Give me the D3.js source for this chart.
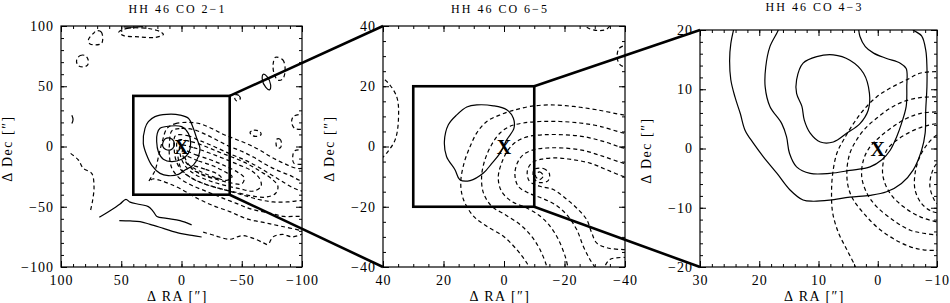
<!DOCTYPE html>
<html>
<head>
<meta charset="utf-8">
<script src="https://d3js.org/d3.v7.min.js"></script>
<style>
  body { margin: 0; background: #fff; }
  svg text { font-family: "Liberation Serif", "DejaVu Serif", serif; fill: #000; }
  .ct { fill: none; stroke: #000; stroke-width: 1.2; }
  .dash { stroke-dasharray: 4,3; }
</style>
</head>
<body>
<svg width="950" height="303"></svg>
<script>
// ---- panel setup ----
var titles = ["HH 46 CO 2\u22121", "HH 46 CO 6\u22125", "HH 46 CO 4\u22123"];
var raDomains = [[100, -100], [40, -40], [30, -10]];
var decDomains = [[-100, 100], [-40, 40], [-20, 20]];
var majorTicks = [[-100, -50, 0, 50, 100], [-40, -20, 0, 20, 40], [-20, -10, 0, 10, 20]];
var raTicks = [[100, 50, 0, -50, -100], [40, 20, 0, -20, -40], [30, 20, 10, 0, -10]];
var minorSteps = [10, 5, 2];

// zoom boxes (RA range, Dec range)
var box1RA = [40, -40], box1Dec = [-40, 42];
var box2RA = [30, -10], box2Dec = [-20, 20];

// ---- contours, [RA, Dec] pairs ----
// CO 2-1
var p1SolidClosed = [
  [[30.3,15.1],[31.7,2.6],[28.9,-7.1],[24.8,-15.4],[17.8,-22.3],[10.9,-24.2],[2.6,-23.1],[-2.9,-19.5],[-9.8,-15.4],[-14,-8.4],[-15.3,-1.5],[-12.6,6.8],[-9.8,15.1],[-5.7,23.4],[1.2,26.1],[12.3,26.7],[22,24.8],[27.5,20.6]],
  [[17.8,15.1],[9.5,17],[-0.1,16.5],[-5.7,10.9],[-7.6,2.6],[-5.7,-5.7],[-0.1,-10.6],[8.2,-12.6],[15.1,-10.6],[19.2,-4.3],[20.6,4],[20.1,10.9]],
  [[15.5,3],[13.5,6.5],[9.5,7],[6.5,4.5],[6.3,0],[9,-2.8],[13,-2.5],[15.5,0]],
  [[-68,60],[-67,56],[-70,49],[-73,47],[-74,51],[-71,58]]
];
var p1SolidOpen = [
  [[68.2,-58.8],[59.3,-53.3],[51,-47.7],[46.1,-43.8],[42.7,-46.2],[34.4,-48.1],[27.5,-49.9],[23.4,-54],[20.4,-58],[12.3,-59.6],[1.2,-61.5],[-8.4,-65]],
  [[51.6,-61.5],[42.7,-61.8],[34.4,-62.4],[26.1,-64.6],[15.1,-67.9],[1.2,-72.1],[-9.8,-74],[-16.7,-75.1]],
  [[91,26],[90,22.5],[91,19]],
  [[48,99.3],[40,99],[32,99.4]]
];
var p1DashClosed = [
  [[12,15],[5,19],[-5,20],[-15,19],[-25,15],[-35,10],[-45,6],[-55,2],[-65,-3],[-75,-9],[-85,-14],[-95,-18],[-110,-20],[-110,-73],[-100,-70],[-82,-66],[-68,-63],[-54,-60],[-40,-54],[-26,-49],[-13,-43],[1,-35],[10,-31],[18,-28],[24,-27],[27,-29],[22,-20],[19,-8],[16,4]],
  [[8,13],[0,15],[-10,14],[-20,10],[-30,5],[-40,0],[-50,-4],[-60,-9],[-70,-15],[-80,-20],[-90,-24],[-98,-28],[-110,-31],[-110,-60],[-98,-58],[-85,-58],[-72,-55],[-58,-52],[-45,-47],[-32,-42],[-20,-37],[-8,-32],[2,-26],[8,-18],[10,-8],[10,2]],
  [[5,9],[-5,9],[-15,5],[-27,0],[-40,-6],[-52,-11],[-62,-16],[-72,-22],[-82,-28],[-92,-34],[-100,-37],[-110,-39],[-110,-47],[-100,-45],[-88,-46],[-76,-46],[-64,-44],[-50,-40],[-36,-36],[-22,-32],[-10,-27],[-1,-21],[4,-13],[6,-3]],
  [[3,5],[-8,4],[-20,0],[-32,-5],[-45,-10],[-56,-15],[-66,-21],[-75,-27],[-80,-33],[-78,-39],[-70,-42],[-58,-41],[-45,-38],[-32,-35],[-19,-31],[-8,-26],[0,-19],[3,-8]],
  [[1,1],[-10,-1],[-22,-5],[-35,-10],[-47,-15],[-58,-20],[-65,-27],[-66,-33],[-60,-37],[-48,-35],[-35,-32],[-22,-28],[-11,-23],[-3,-16],[1,-7]],
  [[-1,-3],[-12,-7],[-24,-11],[-36,-16],[-46,-21],[-52,-26],[-50,-31],[-40,-30],[-28,-27],[-16,-23],[-7,-17],[-2,-10]],
  [[-3,-8],[-14,-12],[-26,-16],[-36,-21],[-42,-25],[-38,-28],[-26,-25],[-14,-20],[-6,-15]],
  [[-8,-16],[-20,-19],[-30,-23],[-33,-26],[-26,-26],[-15,-22],[-9,-19]],
  [[-57,12],[-60,13.5],[-65,12.5],[-66,10],[-63,8.5],[-58,9.5]],
  [[-79,6],[-81.5,6.2],[-83,3],[-82,-1],[-79.5,-1],[-78.5,2]],
  [[-45,43],[-48,42],[-48.5,39],[-45.5,38],[-44,41]],
  [[-78,74],[-84,72],[-86,64],[-84,56],[-80,55],[-77,60],[-76,68]],
  [[70.4,96.1],[66.5,95],[66.3,85.6],[75.9,85.1],[77.3,88.4],[73,94]],
  [[87,72],[84,75.5],[80,75.5],[77.5,72],[78,67.5],[82,66],[86,67.5]],
  [[52,95],[45,98],[35,98.5],[25,97.5],[17,95],[15,93],[22,90.5],[35,91],[48,92]]
];
var p1DashOpen = [
  [[-103,27],[-93,25],[-91.4,20],[-94,15],[-103,14.5]],
  [[-103,-3],[-94,-3.5],[-92.3,-8.5],[-93.4,-14],[-103,-14.5]],
  [[-18,-71],[-28,-74],[-40,-77],[-50,-74],[-59,-76],[-68,-80],[-72,-82]],
  [[-73,-80],[-76,-75],[-84,-73],[-92,-75],[-102,-72]],
  [[92,-5.7],[85.6,-11.2],[81.5,-18.1],[74.5,-22.3],[72.6,-33.3],[73.7,-44.4],[75.4,-52.7]]
];

// CO 6-5
var p2SolidClosed = [
  [[9,13.8],[3.5,13.5],[-0.9,12.2],[-3.1,9.4],[-3.3,6.1],[-0.9,2.2],[1.3,-2.2],[4.1,-5.7],[6.8,-8.8],[11.2,-11.3],[14.6,-11],[16.2,-7.7],[19,-3.3],[19.7,1.7],[18.4,7.2],[15.6,10.5],[12.3,13.1]]
];
var p2DashOpen = [
  [[-42,10.3],[-39.4,10.5],[-30.6,12.2],[-22.9,13.3],[-15.2,13.8],[-8.6,13.3],[-3.1,12],[1.3,10.5],[5.7,8.3],[9,4.5],[11.2,0],[13.2,-5.5],[14.3,-12.1],[13.4,-17.6],[10.1,-23.1],[5.7,-26.5],[0.2,-29.8],[-4.2,-34.2],[-7.5,-38.6],[-9.5,-42]],
  [[-42,4.2],[-39.4,4.5],[-31.7,6.7],[-25.1,7.8],[-18.5,8.3],[-11.9,8.3],[-6.4,7.8],[-2,6.7],[1.3,4.5],[4.1,0.6],[6.3,-4.4],[7.4,-9.9],[6.8,-15.4],[4.1,-19.8],[-0.3,-22.6],[-5.3,-25.9],[-9.1,-29.8],[-11.9,-34.2],[-14.1,-39.7],[-14.6,-42]],
  [[-42,-1],[-39.4,-0.5],[-32.8,1.7],[-26.2,3.3],[-19.6,3.9],[-13,3.9],[-8,3.3],[-4.2,1.7],[-1.4,-1.1],[0.8,-5.5],[1.9,-10.4],[0.8,-14.9],[-2.5,-18.2],[-7.5,-20.4],[-11.9,-23.1],[-15.2,-26.4],[-18,-30.9],[-20.2,-36.4],[-21.3,-40.8],[-21.6,-42]],
  [[-42,-6],[-39.4,-5.5],[-32.8,-3.3],[-26.2,-1.3],[-19.6,-0.5],[-14.1,-0.5],[-9.7,-1.1],[-6.4,-2.7],[-4.4,-5.5],[-3.6,-9.3],[-4.7,-13.2],[-8,-15.4],[-12.4,-17.1],[-16.9,-19.3],[-20.7,-22.6],[-24,-27.5],[-26.2,-33.1],[-28.4,-37.5],[-30.6,-40.8],[-31.5,-42]],
  [[-42,-10.5],[-39.4,-9.9],[-33.9,-7.7],[-28.4,-5.5],[-22.9,-4.4],[-17.4,-3.8],[-12.4,-4.2],[-9.1,-5.5],[-7.7,-8.2],[-8.4,-11.5],[-11.9,-13.2],[-16.3,-14.3],[-20.2,-17.1],[-24,-20.4],[-27.3,-24.2],[-29,-28.7],[-30.6,-32],[-34,-33.6],[-39.4,-34.2],[-42,-34]],
  [[41.5,23],[39.3,22.1],[35.5,16.6],[34.9,8.9],[36,2.2],[38.8,-2.2],[41.5,-5]],
  [[-26,41.5],[-27.5,39.5],[-31,38.5],[-34,39],[-36,41.5]],
  [[-41.5,34],[-38,32.5],[-37.5,29],[-38.5,27],[-41.5,26]],
  [[-32.6,-41.5],[-35,-37.5],[-41.5,-36.9]]
];
var p2DashClosed = [
  [[-10,-7.6],[-13,-7.3],[-15,-9],[-14.6,-11.3],[-12,-12],[-10.2,-11],[-9.6,-9.3]],
  [[-10.4,-9.7],[-11.7,-8.4],[-13,-9.7],[-11.7,-11]]
];

// CO 4-3
var p3SolidOpen = [
  [[24.1,21],[24.8,17.7],[25,14.9],[24.8,11.6],[24.1,8.7],[23.2,5.9],[22.4,3.1],[21,0.9],[19.3,-1.4],[17,-4.2],[14.8,-7],[12.6,-8.7],[10.9,-8.9],[8.1,-8.7],[4.7,-8.2],[1.3,-7.9],[-1.5,-7.3],[-4,-5.9],[-6,-3.6],[-7.4,-0.3],[-8,2.6],[-8.1,6.5],[-8.3,10.4],[-8.3,13.8],[-8.1,16.6],[-7.4,19],[-6,20],[-5,21]],
  [[16.6,21],[16.8,20],[18.2,17.2],[18.9,13.8],[19,10.4],[18.2,7.1],[16.2,4.2],[15.4,2],[14.9,-0.8],[13.7,-3.1],[11.4,-4.2],[8.1,-4.2],[4.7,-3.7],[1.3,-3.1],[-0.7,-1.9],[-2.1,-0.3],[-3.2,2],[-4,4.2],[-4.8,7.1],[-4.9,10.4],[-4.8,13.5],[-3.8,14.4],[-1.5,15.2],[0.7,16.1],[2.1,17.2],[3,18.9],[3.3,21]]
];
var p3SolidClosed = [
  [[13.7,11.6],[12.6,14.4],[10.3,15.5],[7.5,15.8],[4.7,14.9],[2.4,12.7],[1.4,9.3],[1.6,6.5],[3,4.2],[5.2,2.6],[7.5,1.1],[9.7,1.1],[11.4,2.6],[12.4,4.8],[12.8,7.1],[13.7,9.3]]
];
var p3DashOpen = [
  [[-11,13.1],[-10,13],[-7.1,12.7],[-4.9,11.6],[-2.1,10.2],[0.2,8.7],[2.4,6.5],[4.1,4.2],[5.8,1.4],[6.9,-0.8],[7.6,-4.2],[7.8,-7.6],[7.6,-10.9],[6.6,-14.3],[5.2,-17.1],[3.8,-19.9],[3.4,-21]],
  [[-11,8.7],[-10,8.7],[-7.1,8.6],[-4.3,7.9],[-2.1,6.8],[0.2,5.1],[2.1,3.4],[3.6,1.4],[4.7,-0.8],[5.2,-3.6],[5,-6.4],[4.1,-8.7],[2.4,-10.9],[0.2,-13.2],[-2.6,-15.2],[-5.5,-16.6],[-7.7,-17.1],[-10,-17.2],[-11,-17.2]],
  [[-11,6.2],[-10,6.2],[-7.1,5.9],[-4.9,5.1],[-2.6,3.7],[-0.4,2],[1.3,0.3],[2.4,-1.9],[2.7,-4.8],[1.8,-7.6],[0.2,-9.8],[-2.6,-12.1],[-5.5,-13.8],[-7.7,-14.3],[-10,-14.6],[-11,-14.6]],
  [[-11,4.2],[-10,4.2],[-7.7,3.7],[-5.5,2.8],[-3.2,1.4],[-1.5,-0.3],[-0.9,-2.5],[-0.9,-4.8],[-2.1,-7.6],[-4.3,-9.8],[-7.1,-11.5],[-10,-12.4],[-11,-12.5]],
  [[-11,2.8],[-10,2.3],[-8.5,0.9],[-7.1,-1.4],[-6.3,-4.2],[-6.3,-7],[-7.4,-9.3],[-9.1,-10.6],[-11,-11]],
  [[-11,-2.2],[-10,-2.5],[-9.1,-4.2],[-8.8,-6.4],[-9.4,-8.4],[-10,-9.3],[-11,-9.6]]
];

var panels = [
  {solidClosed: p1SolidClosed, solidOpen: p1SolidOpen, dashClosed: p1DashClosed, dashOpen: p1DashOpen},
  {solidClosed: p2SolidClosed, solidOpen: [], dashClosed: p2DashClosed, dashOpen: p2DashOpen},
  {solidClosed: p3SolidClosed, solidOpen: p3SolidOpen, dashClosed: [], dashOpen: p3DashOpen}
];

// ---- layout ----
var frames = [
  {x: 61, y: 26, w: 241, h: 241},
  {x: 383, y: 26, w: 242, h: 241},
  {x: 700, y: 30, w: 237, h: 237}
];
var titleY = [13, 13, 11];
var fontStack = '"Liberation Serif", "DejaVu Serif", serif';
var fmt = function(d) { return d < 0 ? "\u2212" + Math.abs(d) : String(d); };

var svg = d3.select("svg");
var scales = [];

frames.forEach(function(f, i) {
  var x = d3.scaleLinear().domain(raDomains[i]).range([f.x, f.x + f.w]);
  var y = d3.scaleLinear().domain(decDomains[i]).range([f.y + f.h, f.y]);
  scales.push({x: x, y: y});

  var lo = decDomains[i][0], hi = decDomains[i][1];
  var minor = d3.range(lo, hi + 0.001, minorSteps[i]);
  var rlo = raDomains[i][1], rhi = raDomains[i][0];
  var minorX = d3.range(rlo, rhi + 0.001, minorSteps[i]);

  svg.append("clipPath").attr("id", "clip" + i)
    .append("rect").attr("x", f.x).attr("y", f.y).attr("width", f.w).attr("height", f.h);

  var g = svg.append("g");

  // contours
  var cg = g.append("g").attr("clip-path", "url(#clip" + i + ")");
  var lineOpen = d3.line().x(function(d) { return x(d[0]); }).y(function(d) { return y(d[1]); })
      .curve(d3.curveCatmullRom.alpha(0.5));
  var lineClosed = d3.line().x(function(d) { return x(d[0]); }).y(function(d) { return y(d[1]); })
      .curve(d3.curveCatmullRomClosed.alpha(0.5));
  var p = panels[i];
  cg.selectAll(".sc").data(p.solidClosed).enter().append("path")
    .attr("class", "ct").attr("d", lineClosed);
  cg.selectAll(".so").data(p.solidOpen).enter().append("path")
    .attr("class", "ct").attr("d", lineOpen);
  cg.selectAll(".dc").data(p.dashClosed).enter().append("path")
    .attr("class", "ct dash").attr("d", lineClosed);
  cg.selectAll(".do").data(p.dashOpen).enter().append("path")
    .attr("class", "ct dash").attr("d", lineOpen);

  // ticks (inside, all four sides)
  function styleAxis(a) {
    a.select(".domain").remove();
    a.selectAll("line").attr("stroke", "#000").attr("stroke-width", 1);
    a.attr("font-family", fontStack).attr("font-size", 14);
    a.selectAll("text").style("letter-spacing", "1px");
  }
  g.append("g").attr("transform", "translate(0," + (f.y + f.h) + ")")
    .call(d3.axisBottom(x).tickValues(raTicks[i]).tickFormat(fmt).tickSize(-6).tickPadding(8))
    .call(styleAxis);
  g.append("g").attr("transform", "translate(0," + (f.y + f.h) + ")")
    .call(d3.axisBottom(x).tickValues(minorX).tickFormat("").tickSize(-3)).call(styleAxis);
  g.append("g").attr("transform", "translate(0," + f.y + ")")
    .call(d3.axisTop(x).tickValues(raTicks[i]).tickFormat("").tickSize(-6)).call(styleAxis);
  g.append("g").attr("transform", "translate(0," + f.y + ")")
    .call(d3.axisTop(x).tickValues(minorX).tickFormat("").tickSize(-3)).call(styleAxis);
  g.append("g").attr("transform", "translate(" + f.x + ",0)")
    .call(d3.axisLeft(y).tickValues(majorTicks[i]).tickFormat(fmt).tickSize(-6).tickPadding(7))
    .call(styleAxis);
  g.append("g").attr("transform", "translate(" + f.x + ",0)")
    .call(d3.axisLeft(y).tickValues(minor).tickFormat("").tickSize(-3)).call(styleAxis);
  g.append("g").attr("transform", "translate(" + (f.x + f.w) + ",0)")
    .call(d3.axisRight(y).tickValues(majorTicks[i]).tickFormat("").tickSize(-6)).call(styleAxis);
  g.append("g").attr("transform", "translate(" + (f.x + f.w) + ",0)")
    .call(d3.axisRight(y).tickValues(minor).tickFormat("").tickSize(-3)).call(styleAxis);

  // frame
  g.append("rect").attr("x", f.x).attr("y", f.y).attr("width", f.w).attr("height", f.h)
    .attr("fill", "none").attr("stroke", "#000").attr("stroke-width", 1.2);

  // source marker
  g.append("text").attr("x", x(0)).attr("y", y(0)).attr("dy", "0.35em")
    .attr("text-anchor", "middle").attr("font-size", 20).attr("font-weight", "bold")
    .text("X");

  // title and axis labels
  var cx = f.x + f.w / 2 - 4;
  svg.append("text").attr("x", cx).attr("y", titleY[i]).attr("text-anchor", "middle")
    .attr("font-size", 12).style("letter-spacing", "2px").text(titles[i]);
  svg.append("text").attr("x", cx).attr("y", 301).attr("text-anchor", "middle")
    .attr("font-size", 14).style("letter-spacing", "1.5px").text("\u0394 RA [\u2033]");
  svg.append("text").attr("transform", "translate(" + (f.x - 49) + "," + (f.y + f.h / 2 + 2) + ") rotate(-90)")
    .attr("text-anchor", "middle").attr("font-size", 14).style("letter-spacing", "1.5px")
    .text("\u0394 Dec [\u2033]");
});

// zoom boxes and connectors
function drawZoom(s, bRA, bDec, target) {
  var x0 = s.x(bRA[0]), x1 = s.x(bRA[1]), yT = s.y(bDec[1]), yB = s.y(bDec[0]);
  svg.append("rect").attr("x", x0).attr("y", yT).attr("width", x1 - x0).attr("height", yB - yT)
    .attr("fill", "none").attr("stroke", "#000").attr("stroke-width", 2.6);
  svg.append("line").attr("x1", x1).attr("y1", yT).attr("x2", target.x).attr("y2", target.y)
    .attr("stroke", "#000").attr("stroke-width", 2.6);
  svg.append("line").attr("x1", x1).attr("y1", yB).attr("x2", target.x).attr("y2", target.y + target.h)
    .attr("stroke", "#000").attr("stroke-width", 2.6);
}
drawZoom(scales[0], box1RA, box1Dec, frames[1]);
drawZoom(scales[1], box2RA, box2Dec, frames[2]);
</script>
</body>
</html>
